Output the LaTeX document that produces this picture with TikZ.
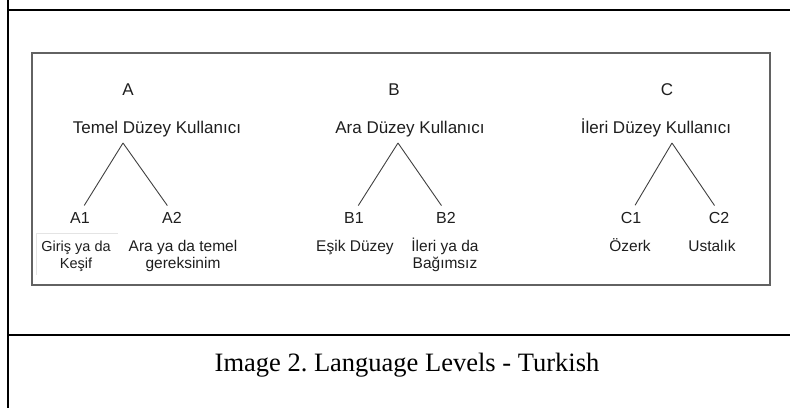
\documentclass[tikz,border=0pt]{standalone}
\usepackage{fontspec}
\setmainfont{Liberation Sans}
\newfontfamily\captionserif{Liberation Serif}
\usepackage{xcolor}
\usepackage{tikz}
\definecolor{inkgray}{HTML}{1E1E1E}
\definecolor{linegray}{HTML}{404040}
\definecolor{boxgray}{HTML}{626262}
\definecolor{faintgray}{HTML}{E4E4E4}
\usetikzlibrary{positioning}
\frenchspacing

\begin{document}
\begin{tikzpicture}[
    x=1pt, y=-1pt,
    every node/.style={text=inkgray, inner sep=0pt},
    grade/.style={font=\fontsize{17}{20}\selectfont, anchor=base},
    usertitle/.style={font=\fontsize{17}{20}\selectfont, anchor=base},
    sublevel/.style={font=\fontsize{16}{19}\selectfont, anchor=base},
    descr/.style={font=\fontsize{15.5}{17}\selectfont, align=center, anchor=base},
    branch/.style={draw=linegray, line width=0.9pt, shorten >=8pt},
    tablerule/.style={draw=black, line width=2pt},
]
\useasboundingbox (0,0) rectangle (790,408);

% Table frame round the figure
\draw[tablerule] (8,0) -- (8,408);
\draw[tablerule] (8,10) -- (790,10);
\draw[tablerule] (8,335) -- (790,335);

% Framed picture
\draw[boxgray, line width=1.5pt] (32,53) rectangle (770,285);
\draw[faintgray, line width=0.8pt] (36,275) -- (36,233) -- (118,233);

% Three main levels
\node[grade] (gradeA) at (128,95.5) {A};
\node[grade] (gradeB) at (394,95.5) {B};
\node[grade] (gradeC) at (667,95.5) {C};
\node[usertitle] (userA) at (157,133.5) {Temel Düzey Kullanıcı};
\node[usertitle] (userB) at (410,133.5) {Ara Düzey Kullanıcı};
\node[usertitle] (userC) at (656,133.5) {İleri Düzey Kullanıcı};
\coordinate (apexA) at (123,143);
\coordinate (apexB) at (398,143);
\coordinate (apexC) at (672,143);

% Sub levels and their names (two-line names sit on their last line)
\node[sublevel] (a1) at (80,223.5) {A1};
\node[sublevel] (a2) at (172,223.5) {A2};
\node[sublevel] (b1) at (354,223.5) {B1};
\node[sublevel] (b2) at (446,223.5) {B2};
\node[sublevel] (c1) at (631,223.5) {C1};
\node[sublevel] (c2) at (719,223.5) {C2};
\node[descr, font=\fontsize{14.5}{17}\selectfont] (descA1) at (76,268) {Giriş ya da\\Keşif};
\node[descr] (descA2) at (183,268) {Ara ya da temel\\gereksinim};
\node[descr] (descB1) at (355,251) {Eşik Düzey};
\node[descr] (descB2) at (445,268) {İleri ya da\\Bağımsız};
\node[descr] (descC1) at (630,251) {Özerk};
\node[descr] (descC2) at (712,251) {Ustalık};

% Branches of each tree
\foreach \t/\l/\r in {A/a1/a2, B/b1/b2, C/c1/c2} {
    \draw[branch] (apex\t) -- (\l.north);
    \draw[branch] (apex\t) -- (\r.north);
}

% Caption
\node[font=\captionserif\fontsize{26.5}{30}\selectfont, text=black, anchor=base]
    (caption) at (407,371) {Image 2. Language Levels - Turkish};

\end{tikzpicture}
\end{document}
